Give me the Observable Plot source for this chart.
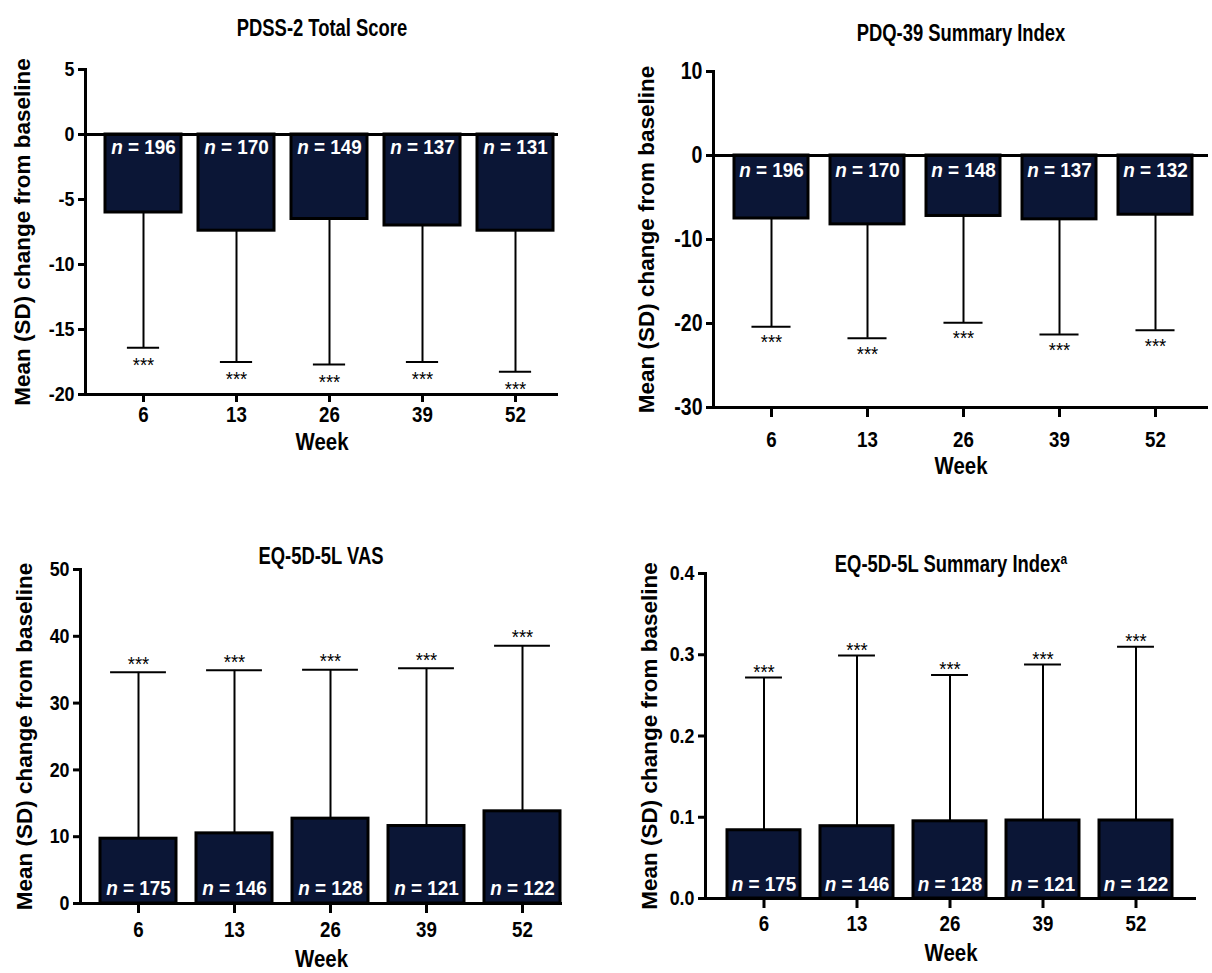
<!DOCTYPE html>
<html><head><meta charset="utf-8">
<script src="https://cdn.jsdelivr.net/npm/d3@7"></script>
<script src="https://cdn.jsdelivr.net/npm/@observablehq/plot@0.6"></script>
<style>
body{margin:0;background:#fff;font-family:"Liberation Sans",Arial,sans-serif;}
#root{position:relative;width:1212px;height:973px;overflow:hidden;background:#fff;}
.panel{position:absolute;}
.title{position:absolute;font-weight:bold;font-size:23px;white-space:nowrap;transform:translate(-50%,-50%) scaleX(0.8);color:#000;}
.title sup{font-size:15px;}
</style></head><body><div id="root"></div>
<script>
// ---- data ----
const weeks = ["6", "13", "26", "39", "52"];

const pdssMean = [-6.0, -7.4, -6.5, -7.0, -7.4];
const pdssSD   = [10.4, 10.1, 11.2, 10.5, 10.85];
const pdssN    = [196, 170, 149, 137, 131];

const pdqMean = [-7.5, -8.2, -7.2, -7.6, -7.05];
const pdqSD   = [12.9, 13.55, 12.7, 13.7, 13.75];
const pdqN    = [196, 170, 148, 137, 132];

const vasMean = [9.7, 10.5, 12.7, 11.6, 13.8];
const vasSD   = [24.9, 24.4, 22.3, 23.6, 24.8];
const vasN    = [175, 146, 128, 121, 122];

const eqMean = [0.084, 0.089, 0.095, 0.096, 0.096];
const eqSD   = [0.188, 0.210, 0.180, 0.192, 0.214];
const eqN    = [175, 146, 128, 121, 122];

const pdssTicks = [5, 0, -5, -10, -15, -20];
const pdqTicks  = [10, 0, -10, -20, -30];
const vasTicks  = [0, 10, 20, 30, 40, 50];
const eqTicks   = [0, 0.1, 0.2, 0.3, 0.4];

const yLabel = "Mean (SD) change from baseline";
const xLabel = "Week";
const sigLabel = "***";

// ---- drawing ----
const NAVY = "#0b1636";
const FONT = '"Liberation Sans", Arial, sans-serif';
const root = document.getElementById("root");

function isN(t) { return t.textContent.startsWith("n = "); }

function squeeze(svg) {
  // narrow the horizontal bold texts to mimic the reference's condensed look
  svg.querySelectorAll("text").forEach(t => {
    const s = t.textContent;
    if (s === yLabel) return;
    const k = isN(t) ? 0.9 : s === sigLabel ? 0.92 : 0.85;
    const L = t.getComputedTextLength();
    if (L > 0) {
      t.setAttribute("textLength", (L * k).toFixed(2));
      t.setAttribute("lengthAdjust", "spacingAndGlyphs");
    }
  });
}

function panel(c) {
  const rows = weeks.map((w, i) => ({
    week: w, mean: c.mean[i], sd: c.sd[i], n: c.n[i],
    end: c.mean[i] + Math.sign(c.mean[i]) * c.sd[i]
  }));
  const neg = c.domain[0] < 0;
  const bw = (c.width - c.marginLeft - c.marginRight) /
             (weeks.length - c.pIn + 2 * c.pOut) * (1 - c.pIn);
  const inset = (bw - c.cap) / 2;
  const mid = (c.domain[0] + c.domain[1]) / 2;
  const marks = [
    Plot.barY(rows, {x: "week", y: "mean", fill: NAVY, stroke: "#000", strokeWidth: 3}),
    Plot.ruleX(rows, {x: "week", y1: "mean", y2: "end", stroke: "#000", strokeWidth: 2}),
    Plot.tickY(rows, {x: "week", y: "end", stroke: "#000", strokeWidth: 2, insetLeft: inset, insetRight: inset}),
    Plot.text(rows, {x: "week", y: () => 0, text: d => `n = ${d.n}`, fill: "#fff", fontSize: 21,
      fontWeight: "bold", dy: c.nDy}),
    Plot.text(rows, {x: "week", y: "end", text: () => sigLabel, fill: "#000", fontSize: 20,
      fontWeight: "normal", dy: c.starDy}),
    Plot.ruleY([c.domain[0]], {stroke: "#000", strokeWidth: 3}),
    Plot.frame({anchor: "left", stroke: "#000", strokeWidth: 3}),
    Plot.axisY({ticks: c.ticks, tickFormat: c.fmt, tickSize: 7, tickPadding: 4, strokeWidth: 3,
      fontSize: c.yFont, label: null}),
    Plot.axisX({tickSize: c.xTick, tickPadding: c.xPad, strokeWidth: 3, fontSize: 22, label: null}),
    Plot.text([yLabel], {y: () => mid, frameAnchor: "left", textAnchor: "middle", lineAnchor: "middle",
      rotate: -90, dx: c.labelDx, fontSize: 22.5, fontWeight: "bold", fill: "#000"}),
    Plot.text([xLabel], {frameAnchor: "bottom", dy: c.weekDy, fontSize: 24, fontWeight: "bold", fill: "#000"})
  ];
  if (neg) marks.push(Plot.ruleY([0], {stroke: "#000", strokeWidth: 3}));
  const svg = Plot.plot({
    width: c.width, height: c.height,
    marginLeft: c.marginLeft, marginRight: c.marginRight, marginTop: c.marginTop, marginBottom: c.marginBottom,
    style: {fontFamily: FONT, fontWeight: "bold", fontSize: "20px", color: "#000", background: "transparent", overflow: "visible"},
    x: {type: "band", domain: weeks, paddingInner: c.pIn, paddingOuter: c.pOut, align: c.align, axis: null},
    y: {domain: c.domain, axis: null},
    marks
  });
  const ns = "http://www.w3.org/2000/svg";
  svg.querySelectorAll("text").forEach(t => {
    if (!isN(t) || t.children.length) return;
    const s = t.textContent;
    t.textContent = "";
    const a = document.createElementNS(ns, "tspan");
    a.setAttribute("font-style", "italic");
    a.textContent = s.slice(0, 1);
    const b = document.createElementNS(ns, "tspan");
    b.textContent = s.slice(1);
    t.append(a, b);
  });
  const wrap = document.createElement("div");
  wrap.className = "panel";
  wrap.style.left = c.left + "px";
  wrap.style.top = c.top + "px";
  wrap.appendChild(svg);
  root.appendChild(wrap);
  squeeze(svg);
  const t = document.createElement("div");
  t.className = "title";
  t.innerHTML = c.title;
  t.style.left = (c.left + c.marginLeft + (c.width - c.marginLeft - c.marginRight) / 2) + "px";
  t.style.top = c.titleY + "px";
  root.appendChild(t);
}

const intFmt = d => String(d);
const decFmt = d => d.toFixed(1);

panel({title: "PDSS-2 Total Score", titleY: 28, mean: pdssMean, sd: pdssSD, n: pdssN,
  domain: [-20, 5], ticks: pdssTicks, fmt: intFmt, yFont: 21,
  left: 0, top: 45, width: 580, height: 430, marginLeft: 85, marginRight: 22, marginTop: 24, marginBottom: 81,
  pIn: 0.18, pOut: 0.115, align: 0.81, cap: 33, nDy: 13, starDy: 18, labelDx: -63, xTick: 8, xPad: 4, weekDy: 55});

panel({title: "PDQ-39 Summary Index", titleY: 33, mean: pdqMean, sd: pdqSD, n: pdqN,
  domain: [-30, 10], ticks: pdqTicks, fmt: intFmt, yFont: 23,
  left: 600, top: 45, width: 612, height: 430, marginLeft: 113, marginRight: 4, marginTop: 26, marginBottom: 68,
  pIn: 0.23, pOut: 0.193, align: 0.57, cap: 39, nDy: 15, starDy: 16, labelDx: -67, xTick: 10, xPad: 14, weekDy: 66});

panel({title: "EQ-5D-5L VAS", titleY: 556, mean: vasMean, sd: vasSD, n: vasN,
  domain: [0, 50], ticks: vasTicks, fmt: intFmt, yFont: 21,
  left: 0, top: 545, width: 580, height: 428, marginLeft: 80, marginRight: 18, marginTop: 24, marginBottom: 70,
  pIn: 0.21, pOut: 0.105, align: 0.89, cap: 56, nDy: -15, starDy: -8, labelDx: -56, xTick: 10, xPad: 8, weekDy: 63});

panel({title: "EQ-5D-5L Summary Index<sup>a</sup>", titleY: 564, mean: eqMean, sd: eqSD, n: eqN,
  domain: [0, 0.4], ticks: eqTicks, fmt: decFmt, yFont: 21,
  left: 600, top: 545, width: 612, height: 428, marginLeft: 105, marginRight: 16, marginTop: 28, marginBottom: 75,
  pIn: 0.22, pOut: 0.23, align: 0.48, cap: 37, nDy: -14, starDy: -5, labelDx: -56, xTick: 10, xPad: 7, weekDy: 62});
</script>
</body></html>
